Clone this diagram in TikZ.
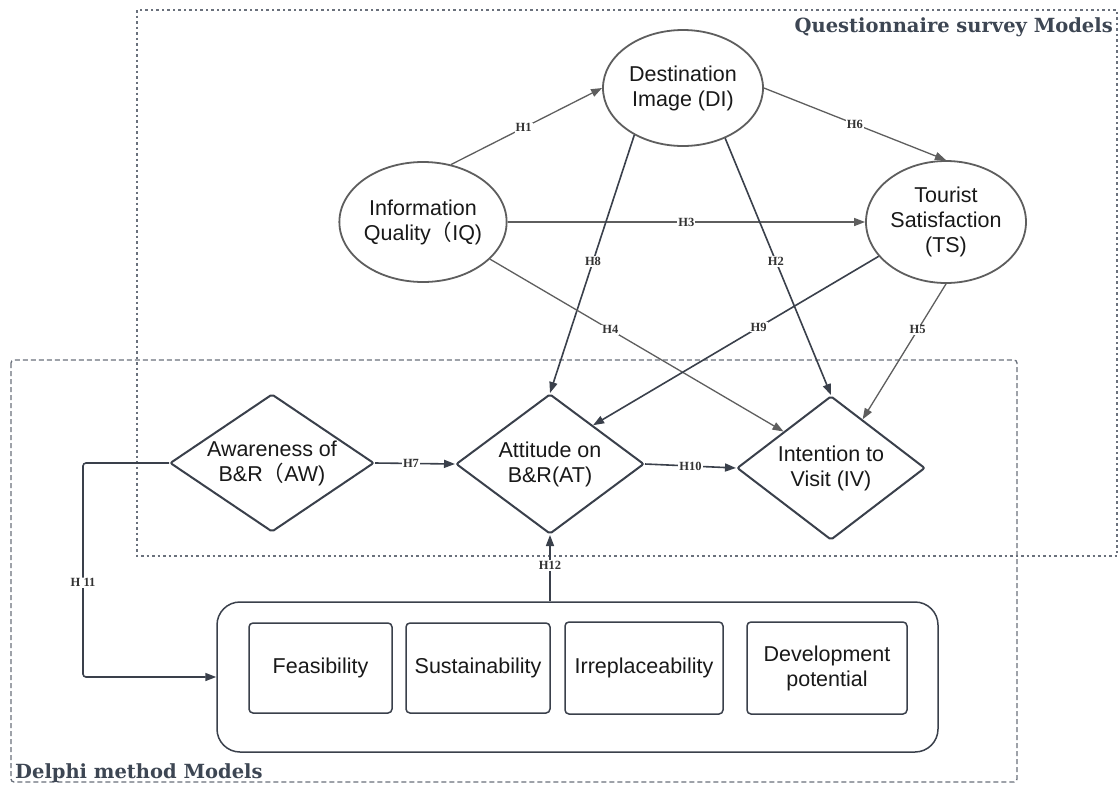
\documentclass[tikz,border=0pt]{standalone}
\usepackage{fontspec}
\setmainfont{Liberation Sans}
\newfontfamily\labelfont{Liberation Serif}
\newfontfamily\titlefont{DejaVu Serif}
\newfontfamily\cjk{Noto Sans CJK SC}
\usetikzlibrary{shapes.geometric,arrows.meta}
\definecolor{edgegray}{HTML}{5E5E5E}
\definecolor{edgedark}{HTML}{3A404B}
\definecolor{framecol}{HTML}{6A717C}
\definecolor{titlecol}{HTML}{3D4653}
\begin{document}
\begin{tikzpicture}[x=1pt,y=-1pt,
  every node/.style={font=\fontsize{21.5}{25}\selectfont, text=black!90},
  construct/.style={ellipse, draw=edgegray, line width=1.8pt, inner sep=0pt, align=center},
  decision/.style={diamond, draw=edgedark, line width=2pt, inner sep=0pt, aspect=1.4, align=center, rounded corners=2pt},
  factor/.style={rectangle, draw=edgedark, line width=1.5pt, rounded corners=4pt, align=center, minimum height=90pt, inner sep=0pt},
  link/.style={draw=edgegray, line width=1.3pt, -{Triangle[length=11pt,width=8pt]}},
  linkdark/.style={link, draw=edgedark, line width=1.6pt},
  hyp/.style={font=\labelfont\bfseries\fontsize{12.5}{14}\selectfont, text=black!80, fill=white, inner sep=1pt},
  boxtitle/.style={font=\titlefont\bfseries\fontsize{19.5}{22}\selectfont, text=titlecol, inner sep=0pt},
]
\fill[white] (0,0) rectangle (1120,785);
\useasboundingbox (0,0) rectangle (1120,785);

% model frames
\draw[framecol, line width=1.3pt, dash pattern=on 2.5pt off 3pt] (137,10) rectangle (1117,556);
\draw[framecol, line width=1.3pt, dash pattern=on 5pt off 3pt, rounded corners=3pt] (11,360) rectangle (1017,782);
\node[boxtitle, anchor=base east] (qtitle) at (1113,32) {Questionnaire survey Models};
\node[boxtitle, anchor=base west] (dtitle) at (15,778) {Delphi method Models};

% constructs
\node[construct, minimum width=160pt, minimum height=116pt] (di) at (683,88) {Destination\\Image (DI)};
\node[construct, minimum width=160pt, minimum height=120pt] (iq) at (423,222) {Information\\Quality{\cjk （}IQ)};
\node[construct, minimum width=160pt, minimum height=122pt] (ts) at (946,222) {Tourist\\Satisfaction\\(TS)};

\node[decision, minimum width=204pt, minimum height=136pt] (aw) at (272,463) {Awareness of\\B\&R{\cjk （}AW)};
\node[decision, minimum width=188pt, minimum height=140pt] (at) at (550,464) {Attitude on\\B\&R(AT)};
\node[decision, minimum width=188pt, minimum height=144pt] (iv) at (831,468) {Intention to\\Visit (IV)};

% Delphi factors
\node[draw=edgedark, line width=1.5pt, rounded corners=23pt, minimum width=721pt, minimum height=150pt, inner sep=0pt] (group) at (577.5,677) {};
\node[factor, minimum width=143pt] (fe) at (320.5,668) {Feasibility};
\node[factor, minimum width=144pt] (su) at (478,668) {Sustainability};
\node[factor, minimum width=158pt, minimum height=92pt] (ir) at (644,668) {Irreplaceability};
\node[factor, minimum width=160pt, minimum height=92pt] (dp) at (827,668) {Development\\potential};

% hypotheses
\draw[link] (iq.64) -- (di.west) node[hyp, pos=0.48] {H1};
\draw[link] (di.east) -- (ts.north) node[hyp, pos=0.5] {H6};
\draw[link] (iq.east) -- (ts.west) node[hyp, pos=0.5] {H3};
\draw[linkdark] (di.224) -- (at.north) node[hyp, pos=0.49] {H8};
\draw[linkdark] (di.310) -- (iv.north) node[hyp, pos=0.48] {H2};
\draw[link] (iq.331) -- (iv.north west) node[hyp, pos=0.41] {H4};
\draw[linkdark] (ts.207) -- (at.42) node[hyp, pos=0.42] {H9};
\draw[link] (ts.south) -- (iv.57) node[hyp, pos=0.34] {H5};
\draw[linkdark] (aw.east) -- (at.west) node[hyp, pos=0.45] {H7};
\draw[linkdark] (at.east) -- (iv.west) node[hyp, pos=0.5] {H10};
\draw[linkdark] (at.south |- group.north) -- (at.south) node[hyp, pos=0.54] {H12};
\coordinate (bend) at (83,463);
\draw[linkdark, rounded corners=3pt] (aw.west) -- (bend) |- (group.west) node[hyp, pos=0.28] {H 11};
\end{tikzpicture}
\end{document}
